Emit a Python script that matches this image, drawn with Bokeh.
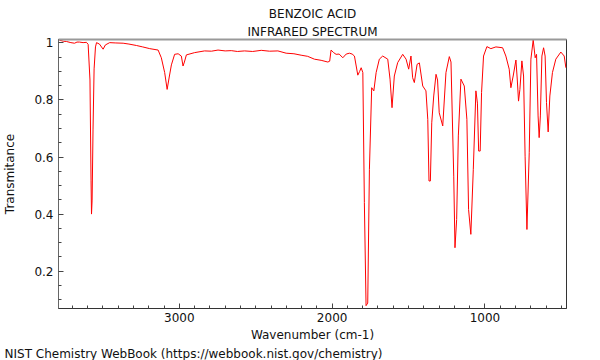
from bokeh.plotting import figure
from bokeh.models import Range1d, FixedTicker, LinearAxis, Title, CustomJSTickFormatter
from bokeh.embed import file_html
from bokeh.resources import INLINE

title_lines = ["BENZOIC ACID", "INFRARED SPECTRUM"]
footer = "NIST Chemistry WebBook (https://webbook.nist.gov/chemistry)"
x_label = "Wavenumber (cm-1)"
y_label = "Transmitance"

x_ticks = [1000, 2000, 3000]
y_ticks = [0.2, 0.4, 0.6, 0.8, 1.0]

wavenumber = [3786, 3760, 3739, 3710, 3686, 3670, 3654, 3630, 3608, 3597, 3585, 3578, 3575, 3571,
              3565, 3558, 3549, 3542, 3523, 3499, 3484, 3456, 3420, 3368, 3330, 3281, 3240, 3194,
              3139, 3118, 3096, 3080, 3065, 3052, 3031, 3008, 2987, 2976, 2967, 2954, 2900, 2835,
              2790, 2747, 2700, 2660, 2620, 2573, 2520, 2464, 2410, 2355, 2301, 2250, 2203, 2160,
              2116, 2072, 2028, 2016, 2007, 1990, 1974, 1954, 1930, 1908, 1887, 1869, 1854, 1832,
              1820, 1810, 1799, 1789, 1778, 1767, 1756, 1741, 1727, 1712, 1691, 1669, 1636, 1621,
              1608, 1593, 1571, 1538, 1516, 1499, 1484, 1473, 1462, 1444, 1429, 1407, 1386, 1374,
              1366, 1357, 1348, 1335, 1320, 1310, 1299, 1276, 1255, 1233, 1222, 1204, 1196, 1185,
              1174, 1157, 1135, 1118, 1107, 1092, 1076, 1059, 1049, 1041, 1031, 1022, 1009, 987,
              961, 928, 884, 863, 841, 830, 815, 797, 788, 780, 771, 758, 747, 737, 725, 710, 699,
              684, 671, 662, 652, 645, 637, 627, 616, 606, 597, 586, 575, 558, 536, 503, 481, 470]
transmittance = [1.010, 1.006, 1.005, 1.001, 0.999, 1.003, 1.003, 1.001, 1.002, 0.995, 0.870, 0.519,
                 0.400, 0.449, 0.695, 0.909, 0.986, 1.001, 0.996, 0.978, 0.993, 1.001, 1.000, 0.999,
                 0.996, 0.991, 0.986, 0.980, 0.975, 0.948, 0.896, 0.837, 0.884, 0.923, 0.960, 0.962,
                 0.954, 0.919, 0.933, 0.958, 0.966, 0.972, 0.971, 0.975, 0.972, 0.973, 0.970, 0.972,
                 0.970, 0.974, 0.971, 0.972, 0.964, 0.962, 0.957, 0.953, 0.943, 0.939, 0.933, 0.936,
                 0.975, 0.966, 0.960, 0.961, 0.948, 0.961, 0.964, 0.961, 0.954, 0.887, 0.900, 0.913,
                 0.896, 0.440, 0.079, 0.088, 0.557, 0.843, 0.832, 0.896, 0.943, 0.954, 0.943, 0.873,
                 0.773, 0.884, 0.931, 0.960, 0.943, 0.908, 0.954, 0.878, 0.861, 0.925, 0.930, 0.849,
                 0.832, 0.732, 0.516, 0.516, 0.720, 0.814, 0.890, 0.870, 0.755, 0.709, 0.896, 0.952,
                 0.933, 0.533, 0.282, 0.381, 0.674, 0.873, 0.849, 0.732, 0.416, 0.329, 0.557, 0.832,
                 0.789, 0.621, 0.621, 0.826, 0.954, 0.987, 0.980, 0.986, 0.983, 0.954, 0.908, 0.843,
                 0.884, 0.940, 0.870, 0.796, 0.837, 0.937, 0.884, 0.603, 0.346, 0.615, 0.943, 1.010,
                 0.948, 0.960, 0.744, 0.668, 0.744, 0.954, 0.983, 0.954, 0.791, 0.688, 0.814, 0.896,
                 0.943, 0.968, 0.954, 0.913]

FONT = "DejaVu Sans"

p = figure(frame_width=508, frame_height=269, output_backend="svg", toolbar_location=None,
           x_range=Range1d(3791, 466), y_range=Range1d(0.069, 1.012),
           min_border_left=56, min_border_right=26, min_border_top=39, min_border_bottom=0)
p.title.visible = False
p.background_fill_color = "white"
p.border_fill_color = "white"
p.outline_line_color = "#333333"
p.grid.visible = False

p.line(wavenumber, transmittance, line_color="#ff0000", line_width=1)

minor_x = [v for v in range(500, 3800, 100) if v not in x_ticks]
minor_y = [0.1, 0.15, 0.25, 0.3, 0.35, 0.45, 0.5, 0.55, 0.65, 0.7, 0.75, 0.85, 0.9, 0.95]

xa = p.xaxis[0]
xa.ticker = FixedTicker(ticks=x_ticks, minor_ticks=minor_x)
xa.axis_label = x_label
ya = p.yaxis[0]
ya.ticker = FixedTicker(ticks=y_ticks, minor_ticks=minor_y)
ya.formatter = CustomJSTickFormatter(code="return String(Math.round(tick*10)/10);")
ya.axis_label = y_label

for ax, col in ((xa, "#333333"), (ya, "#666666")):
    ax.axis_line_color = col
    ax.major_tick_line_color = "#444444"
    ax.minor_tick_line_color = "#444444"
    ax.major_tick_in = 5
    ax.major_tick_out = 0
    ax.minor_tick_in = 3
    ax.minor_tick_out = 0
    ax.major_label_text_font = FONT
    ax.major_label_text_font_size = "12px"
    ax.major_label_text_color = "#111111"
    ax.axis_label_text_font = FONT
    ax.axis_label_text_font_size = "12px"
    ax.axis_label_text_font_style = "normal"
    ax.axis_label_text_color = "#111111"
xa.major_label_standoff = 4
xa.axis_label_standoff = 3
ya.major_label_standoff = 5
ya.axis_label_standoff = 14

top = LinearAxis(ticker=FixedTicker(ticks=[]), major_label_text_font_size="0px",
                 axis_line_color="#999999", axis_line_width=2,
                 major_tick_line_color=None, minor_tick_line_color=None)
p.add_layout(top, "above")

for line in reversed(title_lines):
    p.add_layout(Title(text=line, align="center", standoff=2, text_font=FONT,
                       text_font_size="12px", text_font_style="normal",
                       text_color="#111111"), "above")

p.add_layout(Title(text=footer, align="left", offset=-54, standoff=0, text_font=FONT,
                   text_font_size="12px", text_font_style="normal",
                   text_color="#111111"), "below")

open("out.html", "w").write(file_html(p, INLINE))
